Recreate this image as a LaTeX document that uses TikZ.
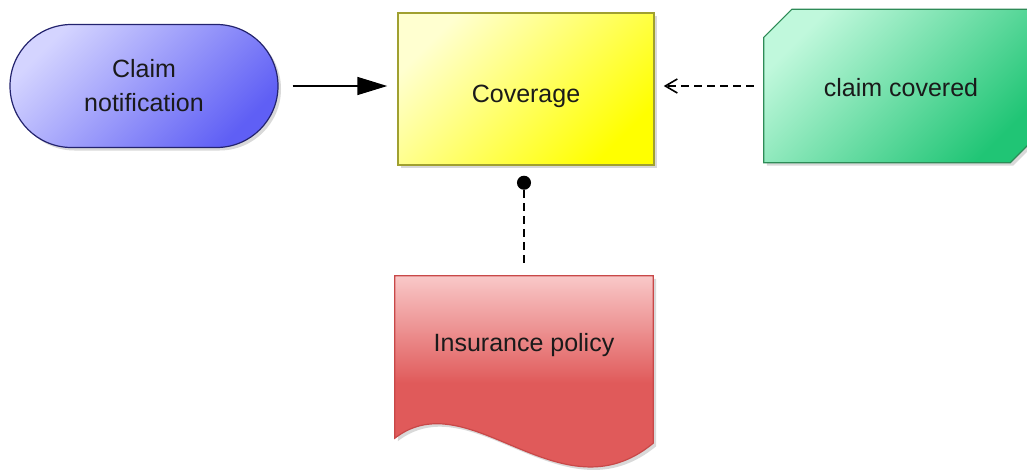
\documentclass[tikz,border=0pt]{standalone}
\usepackage{fontspec}
\setmainfont{Liberation Sans}
\usetikzlibrary{arrows.meta,shapes.misc,shadows,calc,backgrounds}
\definecolor{cnlight}{HTML}{D4D4FF}
\definecolor{cndark}{HTML}{5F5FF5}
\definecolor{cnb}{HTML}{23236E}
\definecolor{covlight}{HTML}{FFFFD0}
\definecolor{covdark}{HTML}{FFFF00}
\definecolor{covb}{HTML}{A0A030}
\definecolor{cclight}{HTML}{C0F8DC}
\definecolor{ccdark}{HTML}{20C575}
\definecolor{ccb}{HTML}{2E8B57}
\definecolor{iplight}{HTML}{F9C8C8}
\definecolor{ipdark}{HTML}{E05A5A}
\definecolor{ipb}{HTML}{C84848}
\definecolor{txt}{HTML}{1A1A1A}
\pgfdeclareverticalshading{ipgrad}{100bp}{color(0bp)=(ipdark); color(53bp)=(ipdark); color(75bp)=(iplight); color(100bp)=(iplight)}
\begin{document}
\begin{tikzpicture}[x=1pt,y=-1pt,
  every node/.style={font=\fontsize{25}{34}\selectfont, text=txt, align=center, inner sep=0pt},
  shad/.style={drop shadow={shadow xshift=3pt, shadow yshift=-3pt, opacity=0.25, fill=black!60}},
  conn/.style={line width=1.6pt, black},
  dashconn/.style={conn, dash pattern=on 8pt off 5pt}]
\useasboundingbox (0,0) rectangle (1027,472);

\node[rounded rectangle, minimum width=268pt, minimum height=123pt, draw=cnb, line width=1.2pt,
  top color=cnlight, bottom color=cndark, shading angle=45, shad] (cn) at (144,86) {Claim\\notification};

\node[rectangle, minimum width=256pt, minimum height=152pt, draw=covb, line width=1.5pt,
  top color=covlight, bottom color=covdark, shading angle=45, shad] (cov) at (526,89) {\raisebox{-7pt}[18pt][5pt]{Coverage}};

\node[minimum width=274pt, minimum height=153pt] (cc) at (901,86) {\raisebox{-4pt}[18pt][5pt]{claim covered}};
\node[minimum width=258pt, minimum height=138pt] (ip) at (524,345) {Insurance policy};

\begin{scope}[on background layer]
\path[shad, draw=ccb, line width=1.2pt, top color=cclight, bottom color=ccdark, shading angle=45]
  ($(cc.north west)+(0,28)$) -- ($(cc.north west)+(28,0)$) -- (cc.north east)
  -- ($(cc.south east)+(0,-28)$) -- ($(cc.south east)+(-28,0)$) -- (cc.south west) -- cycle;
\path[shad, shading=ipgrad, draw=ipb, line width=1.2pt]
  (ip.north west) -- (ip.north east) -- ($(ip.south east)+(0,29)$)
  .. controls ($(ip.south east)+(-93,106)$) and ($(ip.south west)+(75,-34)$) .. ($(ip.south west)+(0,24)$) -- cycle;
\end{scope}

\draw[conn, -{Triangle[length=30pt,width=18pt]}, shorten <=14pt, shorten >=10pt] (cn.east) -- (cn.east -| cov.west);
\draw[dashconn, -{Straight Barb[length=12pt,width=14pt]}, shorten <=10pt, shorten >=9pt] (cc.west) -- (cc.west -| cov.east);
\draw[dashconn, -{Circle[length=14pt]}, shorten <=13pt, shorten >=10pt] (ip.north) -- (ip.north |- cov.south);
\end{tikzpicture}
\end{document}
